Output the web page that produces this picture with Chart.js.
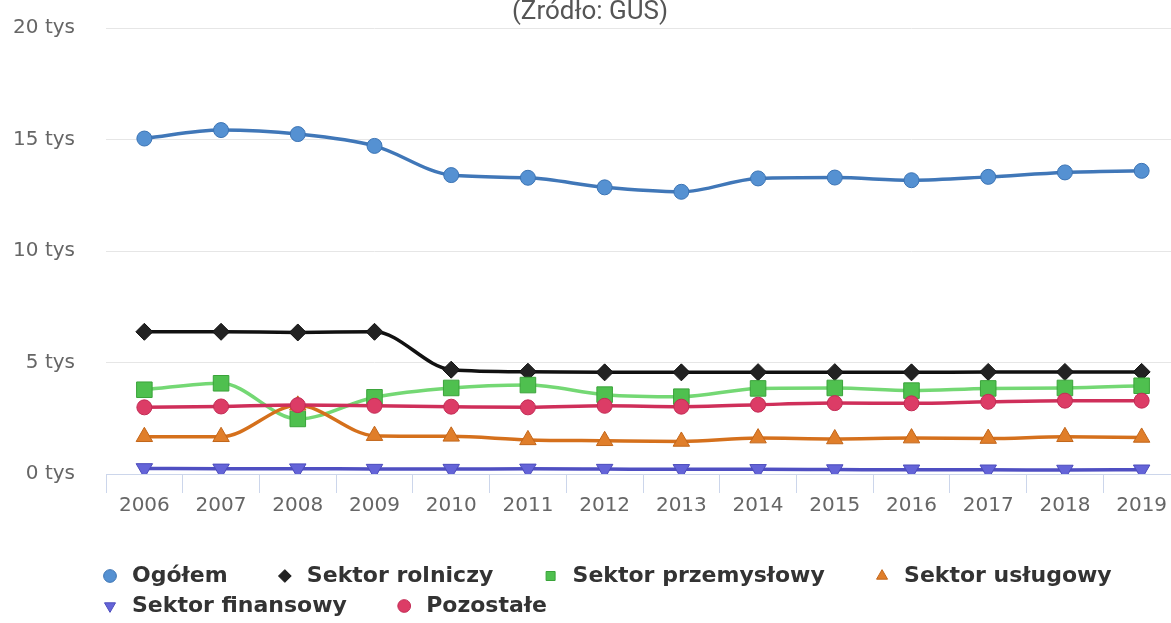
<!DOCTYPE html>
<html>
<head>
<meta charset="utf-8">
<script src="https://cdn.jsdelivr.net/npm/chart.js@4.4.1/dist/chart.umd.min.js"></script>
<style>
  html, body { margin: 0; padding: 0; background: #fff; overflow: hidden; width: 1171px; height: 623px; }
  #wrap { position: absolute; left: 0; top: -3px; }
</style>
</head>
<body>
<div id="wrap"><canvas id="chart" width="1180" height="662"></canvas></div>
<script>
'use strict'

// **** DATA (tys) ****
let years = ['2006', '2007', '2008', '2009', '2010', '2011', '2012', '2013', '2014', '2015', '2016', '2017', '2018', '2019'];
let yTicks = [0, 5, 10, 15, 20];

let ogolem = [15.05, 15.43, 15.25, 14.72, 13.41, 13.29, 12.86, 12.66, 13.26, 13.30, 13.18, 13.33, 13.53, 13.60];
let rolniczy = [6.38, 6.38, 6.35, 6.38, 4.68, 4.59, 4.56, 4.56, 4.57, 4.57, 4.56, 4.58, 4.58, 4.58];
let przemyslowy = [3.78, 4.07, 2.47, 3.44, 3.86, 3.99, 3.56, 3.47, 3.84, 3.86, 3.74, 3.84, 3.86, 3.96];
let uslugowy = [1.67, 1.67, 3.08, 1.72, 1.69, 1.53, 1.49, 1.46, 1.61, 1.57, 1.61, 1.59, 1.67, 1.64];
let finansowy = [0.25, 0.23, 0.24, 0.22, 0.22, 0.23, 0.22, 0.21, 0.21, 0.20, 0.19, 0.19, 0.18, 0.19];
let pozostale = [2.99, 3.03, 3.09, 3.06, 3.02, 2.99, 3.06, 3.02, 3.11, 3.18, 3.17, 3.24, 3.29, 3.29];

// **** LAYOUT CONSTANTS (canvas px) ****
const PLOT_BOTTOM = 477;
const LEGEND_TOP = 560;
const LEGEND_LEFT = 99;

Chart.defaults.font.family = 'DejaVu Sans';
Chart.defaults.color = '#666';

// **** HELPERS ****
function makeSeries(label, data, line, fill, edge, style, radius, rotation = 0, order = 0) {
  return {
    label: label,
    data: data,
    borderColor: line,
    backgroundColor: fill,
    borderWidth: 3.5,
    pointStyle: style,
    pointRadius: radius,
    pointRotation: rotation,
    pointBackgroundColor: fill,
    pointBorderColor: edge,
    pointBorderWidth: 1,
    cubicInterpolationMode: 'monotone',
    order: order
  };
}

let datasets = [
  makeSeries('Ogółem', ogolem, '#4077b8', '#5591d2', '#3c74b4', 'circle', 7.5, 0, 0),
  makeSeries('Sektor rolniczy', rolniczy, '#111111', '#222222', '#111111', 'rectRot', 8.5, 0, -1),
  makeSeries('Sektor przemysłowy', przemyslowy, '#74d874', '#4fc04f', '#3aa33a', 'rect', 11, 0, -2),
  makeSeries('Sektor usługowy', uslugowy, '#d5701c', '#e07e2a', '#c2661a', 'triangle', 9.5, 0, -3),
  makeSeries('Sektor finansowy', finansowy, '#4f4fc2', '#6464d8', '#4c4cbc', 'triangle', 9.5, 180, -4),
  makeSeries('Pozostałe', pozostale, '#cf2f5a', '#dc3c66', '#c22c55', 'circle', 7.5, 0, -5)
];

// moves the legend so it starts under the plot like the original
const legendShift = {
  id: 'legendShift',
  afterLayout(chart) {
    let lg = chart.legend;
    let dx = LEGEND_LEFT - (lg.left + lg.options.labels.padding);
    lg.left += dx;
    lg.right += dx;
    let h = lg.height;
    lg.top = LEGEND_TOP;
    lg.bottom = LEGEND_TOP + h;
  }
};

const config = {
  type: 'line',
  data: { labels: years, datasets: datasets },
  plugins: [legendShift],
  options: {
    responsive: false,
    animation: false,
    devicePixelRatio: 1,
    layout: { padding: 0, autoPadding: false },
    plugins: {
      tooltip: { enabled: false },
      title: {
        display: true,
        text: '(Źródło: GUS)',
        color: '#555',
        font: { family: 'Roboto', size: 26, weight: 'normal' },
        padding: 0
      },
      legend: {
        position: 'bottom',
        align: 'start',
        labels: {
          usePointStyle: true,
          boxWidth: 22,
          boxHeight: 9,
          padding: 8,
          color: '#333',
          font: { size: 22, weight: 'bold' },
          generateLabels(chart) {
            let items = Chart.defaults.plugins.legend.labels.generateLabels(chart);
            items.sort((a, b) => a.datasetIndex - b.datasetIndex);
            items.forEach(item => { item.text = item.text + '     '; });
            return items;
          }
        }
      }
    },
    scales: {
      x: {
        type: 'category',
        offset: true,
        grid: {
          offset: true,
          drawOnChartArea: false,
          tickLength: 19,
          color: '#ccd6eb'
        },
        border: { color: '#ccd6eb', width: 1 },
        ticks: { padding: 1, color: '#666', font: { size: 20 }, maxRotation: 0, autoSkip: false },
        afterFit(scale) {
          scale.height = scale.chart.height - scale.chart.legend.height - PLOT_BOTTOM;
          scale.paddingLeft = 0;
          scale.paddingRight = 0;
        }
      },
      y: {
        min: 0,
        max: 20,
        afterBuildTicks(scale) {
          scale.ticks = yTicks.map(v => ({ value: v }));
        },
        grid: { color: '#e6e6e6', drawTicks: false },
        border: { display: false },
        ticks: {
          padding: 31,
          color: '#666',
          font: { size: 20 },
          callback: v => v + ' tys'
        },
        afterFit(scale) {
          scale.width = 106;
          scale.paddingTop = 0;
          scale.paddingBottom = 0;
        }
      }
    }
  }
};

const ctx = document.getElementById('chart');
const myChart = new Chart(ctx, config);
</script>
</body>
</html>
